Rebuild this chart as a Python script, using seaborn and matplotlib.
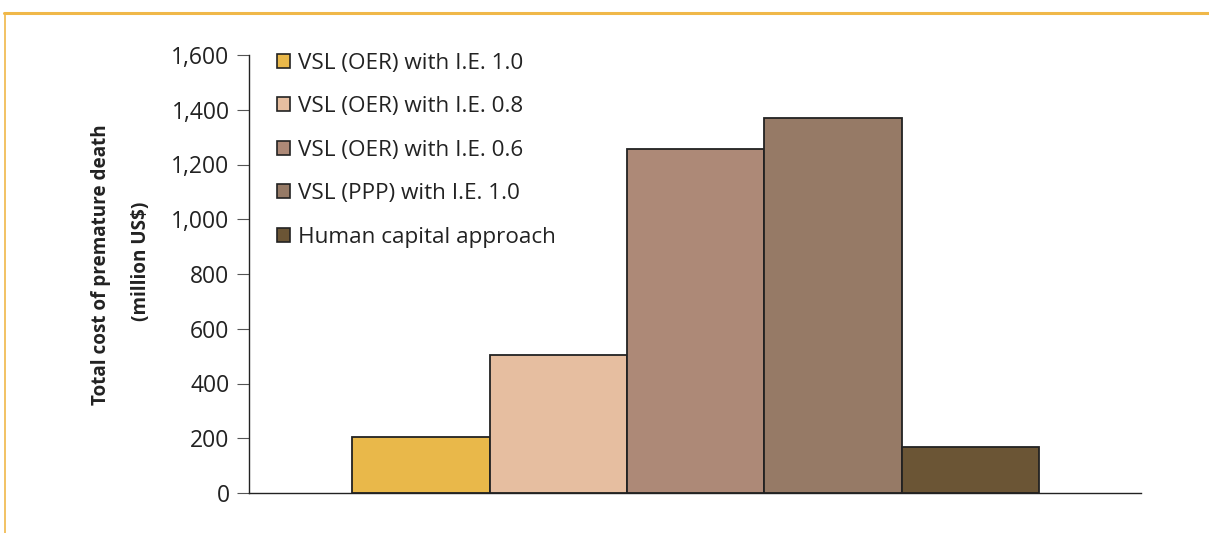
import matplotlib
matplotlib.use("Agg")
import matplotlib.pyplot as plt
import seaborn as sns
import pandas as pd
from matplotlib.patches import Patch
from matplotlib.lines import Line2D

categories = ["VSL (OER) with I.E. 1.0", "VSL (OER) with I.E. 0.8",
              "VSL (OER) with I.E. 0.6", "VSL (PPP) with I.E. 1.0",
              "Human capital approach"]
values = [205, 505, 1255, 1370, 168]
colors = ["#E9B84A", "#E6BEA0", "#AD8977", "#967A66", "#6B5535"]
yticks = [0, 200, 400, 600, 800, 1000, 1200, 1400, 1600]

sns.set_theme(style="white")
plt.rcParams['font.family'] = ['Open Sans', 'DejaVu Sans']

fig = plt.figure(figsize=(12.09, 5.33), dpi=100)
ax = fig.add_axes([249/1209, 1-493/533, (1141-249)/1209, (493-55)/533])

df = pd.DataFrame({"cat": categories, "val": values})
sns.barplot(data=df, x="cat", y="val", hue="cat", palette=colors, dodge=False,
            saturation=1, width=1.0, edgecolor="#222222", linewidth=1.3,
            legend=False, ax=ax)

ax.set_xlim(-1.25, 5.24)
ax.set_ylim(0, 1600)
ax.set_yticks(yticks)
ax.set_yticklabels([f"{v:,}" for v in yticks], fontsize=16.5, color="#222222")
ax.set_xticks([])
ax.set_xlabel("")
ax.set_ylabel("")
for s in ["top", "right"]:
    ax.spines[s].set_visible(False)
for s in ["left", "bottom"]:
    ax.spines[s].set_color("#222222")
    ax.spines[s].set_linewidth(1.0)
ax.tick_params(axis="y", direction="out", length=9, width=0.8, color="#555555", pad=5,
               left=True)

fig.text(101/1209, 1-265/533, "Total cost of premature death", rotation=90,
         ha="center", va="center", fontsize=13.6, fontweight="bold", color="#222222")
fig.text(141/1209, 1-261/533, "(million US$)", rotation=90,
         ha="center", va="center", fontsize=13.6, fontweight="bold", color="#222222")

handles = [Patch(facecolor=c, edgecolor="#222222", linewidth=1.2) for c in colors]
leg = fig.legend(handles, categories, loc="upper left",
                 bbox_to_anchor=(270/1209, 1-46/533),
                 frameon=False, fontsize=16.2, handlelength=0.6, handleheight=0.6,
                 handletextpad=0.35, labelspacing=1.0, labelcolor="#222222",
                 borderaxespad=0, borderpad=0.3)

# orange frame
fig.add_artist(Line2D([4/1209, 1.0], [1-12.5/533, 1-12.5/533], color="#F0B849", lw=2.2,
                      transform=fig.transFigure))
fig.add_artist(Line2D([4.5/1209, 4.5/1209], [1-12.5/533, 0], color="#F0B849", lw=1.2,
                      transform=fig.transFigure))

fig.savefig("out.png", dpi=100)
